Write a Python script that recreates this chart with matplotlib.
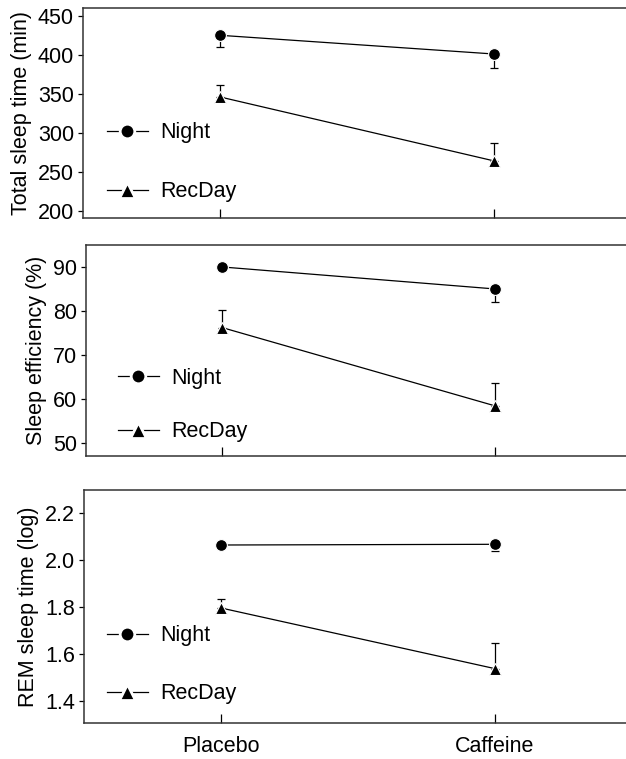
import matplotlib
matplotlib.use("Agg")
import matplotlib.pyplot as plt
from matplotlib.lines import Line2D

plt.rcParams["font.family"] = ["Liberation Sans", "DejaVu Sans"]
plt.rcParams["font.size"] = 15.5

conditions = ["Placebo", "Caffeine"]

# Total sleep time (min)
tst_night = [425, 401]
tst_night_err = [15, 18]
tst_recday = [346, 264]
tst_recday_err = [15, 23]

# Sleep efficiency (%)
se_night = [90.1, 85.1]
se_night_err = [0.5, 2.9]
se_recday = [76.3, 58.5]
se_recday_err = [4.0, 5.3]

# REM sleep time (log)
rem_night = [2.065, 2.068]
rem_night_err = [0.005, 0.028]
rem_recday = [1.796, 1.537]
rem_recday_err = [0.04, 0.11]

panels = [
    dict(night=tst_night, nerr=tst_night_err, rec=tst_recday, rerr=tst_recday_err,
         ylabel="Total sleep time (min)", ylim=(191, 460), yticks=[200, 250, 300, 350, 400, 450],
         fmt="{:.0f}", rect=[83 / 626, 0.7128, 1 - 83 / 626, 0.2767],
         leg=(0.044, 0.265), lspace=1.75),
    dict(night=se_night, nerr=se_night_err, rec=se_recday, rerr=se_recday_err,
         ylabel="Sleep efficiency (%)", ylim=(47.1, 95.1), yticks=[50, 60, 70, 80, 90],
         fmt="{:.0f}", rect=[86 / 626, 0.3992, 1 - 86 / 626, 0.278],
         leg=(0.059, 0.242), lspace=1.5),
    dict(night=rem_night, nerr=rem_night_err, rec=rem_recday, rerr=rem_recday_err,
         ylabel="REM sleep time (log)", ylim=(1.303, 2.30), yticks=[1.4, 1.6, 1.8, 2.0, 2.2],
         fmt="{:.1f}", rect=[84 / 626, 0.047, 1 - 84 / 626, 0.3074],
         leg=(0.042, 0.251), lspace=1.7),
]

fig = plt.figure(figsize=(6.26, 7.59), dpi=100)
x = list(range(len(conditions)))

for i, p in enumerate(panels):
    ax = fig.add_axes(p["rect"])
    zeros = [0] * len(x)
    ax.errorbar(x, p["night"], yerr=[p["nerr"], zeros], fmt="none", ecolor="black",
                elinewidth=0.9, capsize=3, capthick=0.9)
    ax.errorbar(x, p["rec"], yerr=[zeros, p["rerr"]], fmt="none", ecolor="black",
                elinewidth=0.9, capsize=3, capthick=0.9)
    ax.plot(x, p["night"], "-o", color="black", lw=0.9, ms=8.5, mec="white", mew=0.8)
    ax.plot(x, p["rec"], "-^", color="black", lw=0.9, ms=9, mec="white", mew=0.8)

    ax.set_xlim(-0.5, 1.48)
    ax.set_ylim(*p["ylim"])
    ax.set_yticks(p["yticks"])
    ax.set_yticklabels([p["fmt"].format(v) for v in p["yticks"]])
    ax.set_ylabel(p["ylabel"], labelpad=4)
    ax.set_xticks(x)
    if i == 2:
        ax.set_xticklabels(conditions)
    else:
        ax.set_xticklabels([])
    ax.tick_params(axis="x", direction="in", length=6.5, width=0.9, pad=9)
    ax.tick_params(axis="y", direction="out", length=3.5, width=0.9, pad=3)
    for s in ["left", "top", "bottom"]:
        ax.spines[s].set_linewidth(1.1)
        ax.spines[s].set_color("#333333")
    ax.spines["right"].set_visible(False)

    handles = [
        Line2D([], [], color="black", lw=0.9, marker="o", ms=10.5, mec="white", mew=2),
        Line2D([], [], color="black", lw=0.9, marker="^", ms=11, mec="white", mew=2),
    ]
    ax.legend(handles, ["Night", "RecDay"], loc="center left", bbox_to_anchor=p["leg"],
              frameon=False, borderaxespad=0, borderpad=0, handlelength=1.9,
              handletextpad=0.6, labelspacing=p["lspace"], fontsize=15.5)

fig.savefig("out.png", dpi=100)
